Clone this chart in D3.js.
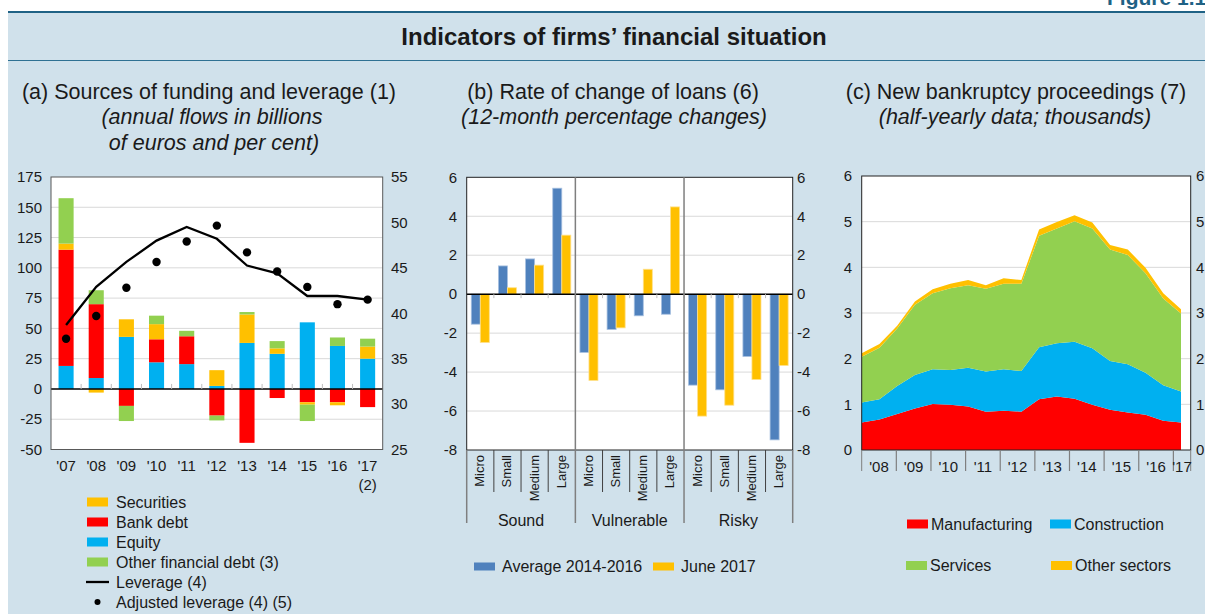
<!DOCTYPE html>
<html>
<head>
<meta charset="utf-8">
<script src="https://cdn.jsdelivr.net/npm/d3@7"></script>
<style>
  body { margin: 0; background: #ffffff; }
  text { font-family: "Liberation Sans", Arial, Helvetica, sans-serif; fill: #1a1a1a; }
</style>
</head>
<body>
<svg id="chart" width="1205" height="614"></svg>
<script>
// ---- panel (a) data: annual flows, bn euro / leverage %
var years = ["'07", "'08", "'09", "'10", "'11", "'12", "'13", "'14", "'15", "'16", "'17"];
var equity     = [19, 9, 43, 22, 20.5, 2.5, 38, 29, 55, 35.5, 25];
var bankDebt   = [96, 61, -14, 19, 23, -22, -44.5, -7.5, -11, -11, -15];
var securities = [5, -3, 14.5, 12.5, 0, 13, 23.5, 4.5, -2, -2.5, 10];
var otherDebt  = [37.5, 11.5, -12.5, 7, 4.5, -4, 2, 6, -13.5, 7, 6.5];
var leverage    = [38.7, 42.9, 45.65, 48.0, 49.5, 48.2, 45.25, 44.4, 41.9, 41.9, 41.5];
var adjLeverage = [37.2, 39.7, 42.8, 45.65, 47.9, 49.65, 46.7, 44.6, 42.9, 41.0, 41.5];
var leftTicksA = [175, 150, 125, 100, 75, 50, 25, 0, -25, -50];
var rightTicksA = [55, 50, 45, 40, 35, 30, 25];

// ---- panel (b) data: 12-month % change of loans
var firmSizes = ["Micro", "Small", "Medium", "Large"];
var firmGroups = ["Sound", "Vulnerable", "Risky"];
var avg2014_2016 = [-1.54, 1.45, 1.81, 5.44, -2.99, -1.81, -1.11, -1.03, -4.67, -4.91, -3.2, -7.48];
var june2017     = [-2.48, 0.33, 1.49, 3.03, -4.43, -1.73, 1.28, 4.48, -6.26, -5.70, -4.38, -3.66];
var ticksB = [6, 4, 2, 0, -2, -4, -6, -8];

// ---- panel (c) data: new bankruptcy proceedings, thousands, half-yearly
var periods = ["2008H1", "2008H2", "2009H1", "2009H2", "2010H1", "2010H2", "2011H1", "2011H2",
  "2012H1", "2012H2", "2013H1", "2013H2", "2014H1", "2014H2", "2015H1", "2015H2",
  "2016H1", "2016H2", "2017H1"];
var manufacturing = [0.60, 0.67, 0.79, 0.91, 1.01, 0.99, 0.95, 0.84, 0.86, 0.84, 1.11, 1.17, 1.12, 0.99, 0.88, 0.82, 0.77, 0.64, 0.60];
var construction  = [0.44, 0.44, 0.61, 0.73, 0.76, 0.76, 0.85, 0.88, 0.91, 0.89, 1.14, 1.17, 1.25, 1.24, 1.07, 1.06, 0.92, 0.78, 0.68];
var services      = [1.00, 1.13, 1.26, 1.54, 1.66, 1.79, 1.81, 1.81, 1.87, 1.91, 2.44, 2.51, 2.64, 2.62, 2.44, 2.39, 2.18, 1.90, 1.71];
var otherSectors  = [0.08, 0.08, 0.06, 0.07, 0.09, 0.10, 0.11, 0.08, 0.12, 0.08, 0.14, 0.14, 0.13, 0.13, 0.10, 0.12, 0.12, 0.11, 0.09];
var yearLabelsC = ["'08", "'09", "'10", "'11", "'12", "'13", "'14", "'15", "'16", "'17"];
var ticksC = [6, 5, 4, 3, 2, 1, 0];

var RED = "#ff0000", BLUE = "#00b0f0", GREEN = "#92d050", YELLOW = "#ffc000", STEEL = "#4f81bd";
var GRID = "#d9d9d9";

var svg = d3.select("#chart");

// background + header
svg.append("rect").attr("x", 8).attr("y", 12).attr("width", 1197).attr("height", 602).attr("fill", "#d0e1eb");
svg.append("line").attr("x1", 8).attr("x2", 1205).attr("y1", 12).attr("y2", 12)
  .attr("stroke", "#1f6285").attr("stroke-width", 2.2);
svg.append("line").attr("x1", 8).attr("x2", 1205).attr("y1", 60.5).attr("y2", 60.5)
  .attr("stroke", "#2f7193").attr("stroke-width", 1);
// header text is cut at the top of the page, as in the source figure
svg.append("text").attr("x", 1107).attr("y", 5).text("Figure 1.1")
  .style("font-size", "21px").style("font-weight", "bold").style("fill", "#1f6285");
svg.append("text").attr("x", 614).attr("y", 45).attr("text-anchor", "middle")
  .text("Indicators of firms\u2019 financial situation")
  .style("font-size", "24px").style("font-weight", "bold");

function addText(x, y, str, size, anchor, italic) {
  var t = svg.append("text").attr("x", x).attr("y", y).text(str)
    .attr("text-anchor", anchor || "middle").style("font-size", size + "px");
  if (italic) t.style("font-style", "italic");
  return t;
}

addText(209, 99, "(a) Sources of funding and leverage (1)", 21.5);
addText(212, 124, "(annual flows in billions", 21.5, "middle", true);
addText(214, 150, "of euros and per cent)", 21.5, "middle", true);
addText(613, 99, "(b) Rate of change of loans (6)", 21.5);
addText(614, 124, "(12-month percentage changes)", 21.5, "middle", true);
addText(1016, 99, "(c) New bankruptcy proceedings (7)", 21.5);
addText(1015, 124, "(half-yearly data; thousands)", 21.5, "middle", true);

// ================= panel (a) =================
var aL = 51, aR = 382.7, aT = 177, aB = 449.5;
var xA = d3.scaleBand().domain(years).range([aL, aR]).paddingInner(0.5).paddingOuter(0.25);
var yA = d3.scaleLinear().domain([-50, 175]).range([aB, aT]);
var yA2 = d3.scaleLinear().domain([25, 55]).range([aB, aT]);

svg.append("rect").attr("x", aL).attr("y", aT).attr("width", aR - aL).attr("height", aB - aT).attr("fill", "#fff");
svg.append("g").selectAll("line").data(leftTicksA.filter(function(d){ return d != 0 && d != 175 && d != -50; }))
  .enter().append("line")
  .attr("x1", aL).attr("x2", aR).attr("y1", function(d){ return yA(d); }).attr("y2", function(d){ return yA(d); })
  .attr("stroke", GRID).attr("stroke-width", 1);

var rowsA = years.map(function(y, i) {
  return { year: y, equity: equity[i], bank: bankDebt[i], securities: securities[i], other: otherDebt[i] };
});
var keysA = ["equity", "bank", "securities", "other"];
var colorA = { equity: BLUE, bank: RED, securities: YELLOW, other: GREEN };
var stackA = d3.stack().keys(keysA).offset(d3.stackOffsetDiverging)(rowsA);

svg.append("g").selectAll("g").data(stackA).enter().append("g")
  .attr("fill", function(d){ return colorA[d.key]; })
  .selectAll("rect").data(function(d){ return d; }).enter().append("rect")
  .attr("x", function(d){ return xA(d.data.year); })
  .attr("width", xA.bandwidth())
  .attr("y", function(d){ return yA(Math.max(d[0], d[1])); })
  .attr("height", function(d){ return Math.abs(yA(d[0]) - yA(d[1])); });

// zero line + small category ticks
svg.append("line").attr("x1", aL).attr("x2", aR).attr("y1", yA(0)).attr("y2", yA(0))
  .attr("stroke", "#000").attr("stroke-width", 1.5);
svg.append("g").selectAll("line").data(years.slice(1)).enter().append("line")
  .attr("x1", function(d){ return xA(d) - xA.step() * 0.25; })
  .attr("x2", function(d){ return xA(d) - xA.step() * 0.25; })
  .attr("y1", yA(0) - 5).attr("y2", yA(0)).attr("stroke", "#bfbfbf");

// leverage line + adjusted dots
var lineA = d3.line()
  .x(function(d, i){ return xA(years[i]) + xA.bandwidth() / 2; })
  .y(function(d){ return yA2(d); });
svg.append("path").datum(leverage).attr("d", lineA)
  .attr("fill", "none").attr("stroke", "#000").attr("stroke-width", 2.3);
svg.append("g").selectAll("circle").data(adjLeverage).enter().append("circle")
  .attr("cx", function(d, i){ return xA(years[i]) + xA.bandwidth() / 2; })
  .attr("cy", function(d){ return yA2(d); })
  .attr("r", 4.2).attr("fill", "#000");

svg.append("rect").attr("x", aL).attr("y", aT).attr("width", aR - aL).attr("height", aB - aT)
  .attr("fill", "none").attr("stroke", "#595959").attr("stroke-width", 1);

svg.append("g").selectAll("text").data(leftTicksA).enter().append("text")
  .attr("x", 42).attr("y", function(d){ return yA(d); }).attr("dy", "0.35em")
  .attr("text-anchor", "end").style("font-size", "15px").text(function(d){ return d; });
svg.append("g").selectAll("text").data(rightTicksA).enter().append("text")
  .attr("x", 391).attr("y", function(d){ return yA2(d); }).attr("dy", "0.35em")
  .attr("text-anchor", "start").style("font-size", "15px").text(function(d){ return d; });
svg.append("g").selectAll("text").data(years).enter().append("text")
  .attr("x", function(d){ return xA(d) + xA.bandwidth() / 2; }).attr("y", 471)
  .attr("text-anchor", "middle").style("font-size", "15px").text(function(d){ return d; });
addText(xA("'17") + xA.bandwidth() / 2, 490, "(2)", 15);

// legend (a)
var legendA = [
  { label: "Securities", color: YELLOW, type: "box" },
  { label: "Bank debt", color: RED, type: "box" },
  { label: "Equity", color: BLUE, type: "box" },
  { label: "Other financial debt (3)", color: GREEN, type: "box" },
  { label: "Leverage (4)", type: "line" },
  { label: "Adjusted leverage (4) (5)", type: "dot" }
];
legendA.forEach(function(d, i) {
  var cy = 502 + i * 20;
  if (d.type == "box") {
    svg.append("rect").attr("x", 87).attr("y", cy - 4.5).attr("width", 21).attr("height", 9).attr("fill", d.color);
  } else if (d.type == "line") {
    svg.append("line").attr("x1", 86).attr("x2", 109).attr("y1", cy).attr("y2", cy)
      .attr("stroke", "#000").attr("stroke-width", 2.3);
  } else {
    svg.append("circle").attr("cx", 97.5).attr("cy", cy).attr("r", 3).attr("fill", "#000");
  }
  addText(116, cy, d.label, 16, "start").attr("dy", "0.35em");
});

// ================= panel (b) =================
var bL = 466.7, bR = 792.7, bT = 177.3, bB = 450;
var catsB = [];
firmGroups.forEach(function(g) { firmSizes.forEach(function(s) { catsB.push(g + "|" + s); }); });
var xB = d3.scaleBand().domain(catsB).range([bL, bR]).paddingInner(0.335).paddingOuter(0.1675);
var xBsub = d3.scaleBand().domain(["avg", "jun"]).range([0, xB.bandwidth()]);
var yB = d3.scaleLinear().domain([-8, 6]).range([bB, bT]);

svg.append("rect").attr("x", bL).attr("y", bT).attr("width", bR - bL).attr("height", bB - bT).attr("fill", "#fff");
svg.append("g").selectAll("line").data(ticksB.filter(function(d){ return d != 0 && d != 6 && d != -8; }))
  .enter().append("line")
  .attr("x1", bL).attr("x2", bR).attr("y1", function(d){ return yB(d); }).attr("y2", function(d){ return yB(d); })
  .attr("stroke", GRID);

var seriesB = [
  { key: "avg", values: avg2014_2016, color: STEEL, edge: "#a7c0e0" },
  { key: "jun", values: june2017, color: YELLOW, edge: "#ffe08a" }
];
seriesB.forEach(function(s) {
  svg.append("g").selectAll("rect").data(s.values).enter().append("rect")
    .attr("x", function(d, i){ return xB(catsB[i]) + xBsub(s.key); })
    .attr("width", xBsub.bandwidth())
    .attr("y", function(d){ return yB(Math.max(0, d)); })
    .attr("height", function(d){ return Math.abs(yB(d) - yB(0)); })
    .attr("fill", s.color).attr("stroke", s.edge).attr("stroke-width", 0.8);
});

svg.append("line").attr("x1", bL).attr("x2", bR).attr("y1", yB(0)).attr("y2", yB(0))
  .attr("stroke", "#000").attr("stroke-width", 1.5);
// boundaries between categories
var boundsB = catsB.map(function(c){ return xB(c) - xB.step() * xB.paddingOuter(); }).slice(1);
svg.append("g").selectAll("line").data(boundsB).enter().append("line")
  .attr("x1", function(d){ return d; }).attr("x2", function(d){ return d; })
  .attr("y1", yB(0)).attr("y2", yB(0) + 4).attr("stroke", "#bfbfbf");

svg.append("rect").attr("x", bL).attr("y", bT).attr("width", bR - bL).attr("height", bB - bT)
  .attr("fill", "none").attr("stroke", "#222").attr("stroke-width", 1);

// small separators under plot and group separators
svg.append("g").selectAll("line").data(boundsB.filter(function(d, i){ return (i + 1) % 4 != 0; }))
  .enter().append("line")
  .attr("x1", function(d){ return d; }).attr("x2", function(d){ return d; })
  .attr("y1", bB).attr("y2", 492).attr("stroke", "#404040");
var groupEdges = [bL].concat(boundsB.filter(function(d, i){ return (i + 1) % 4 == 0; })).concat([bR]);
svg.append("g").selectAll("line").data(groupEdges).enter().append("line")
  .attr("x1", function(d){ return d; }).attr("x2", function(d){ return d; })
  .attr("y1", function(d, i){ return (i == 0 || i == groupEdges.length - 1) ? bB : bT; })
  .attr("y2", 523).attr("stroke", "#7f7f7f").attr("stroke-width", 1.5);

svg.append("g").selectAll("text").data(catsB).enter().append("text")
  .attr("transform", function(d){ return "translate(" + (xB(d) + xB.bandwidth() / 2 + 4) + "," + (bB + 5) + ") rotate(-90)"; })
  .attr("text-anchor", "end").style("font-size", "13px")
  .text(function(d){ return d.split("|")[1]; });
svg.append("g").selectAll("text").data(firmGroups).enter().append("text")
  .attr("x", function(d, i){ return (groupEdges[i] + groupEdges[i + 1]) / 2; }).attr("y", 526)
  .attr("text-anchor", "middle").style("font-size", "16px").text(function(d){ return d; });

svg.append("g").selectAll("text").data(ticksB).enter().append("text")
  .attr("x", 457).attr("y", function(d){ return yB(d); }).attr("dy", "0.35em")
  .attr("text-anchor", "end").style("font-size", "15px").text(function(d){ return d; });
svg.append("g").selectAll("text").data(ticksB).enter().append("text")
  .attr("x", 797).attr("y", function(d){ return yB(d); }).attr("dy", "0.35em")
  .attr("text-anchor", "start").style("font-size", "15px").text(function(d){ return d; });

// legend (b)
[{ label: "Average 2014-2016", color: STEEL, x: 474 }, { label: "June 2017", color: YELLOW, x: 653 }]
  .forEach(function(d) {
    svg.append("rect").attr("x", d.x).attr("y", 562.5).attr("width", 21).attr("height", 8).attr("fill", d.color);
    addText(d.x + 28, 566.5, d.label, 16, "start").attr("dy", "0.35em");
  });

// ================= panel (c) =================
var cL = 861.7, cR = 1190.7, cT = 176, cB = 450;
var yearScaleC = d3.scaleLinear().domain([2008, 2017.5]).range([cL, cR]);
var xC = d3.scalePoint().domain(periods).range([cL, 1181]);
var yC = d3.scaleLinear().domain([0, 6]).range([cB, cT]);

svg.append("rect").attr("x", cL).attr("y", cT).attr("width", cR - cL).attr("height", cB - cT).attr("fill", "#fff");
svg.append("g").selectAll("line").data(ticksC.filter(function(d){ return d != 0 && d != 6; }))
  .enter().append("line")
  .attr("x1", cL).attr("x2", cR).attr("y1", function(d){ return yC(d); }).attr("y2", function(d){ return yC(d); })
  .attr("stroke", GRID);

var rowsC = periods.map(function(p, i) {
  return { period: p, manufacturing: manufacturing[i], construction: construction[i], services: services[i], other: otherSectors[i] };
});
var keysC = ["manufacturing", "construction", "services", "other"];
var colorC = { manufacturing: RED, construction: BLUE, services: GREEN, other: YELLOW };
var stackC = d3.stack().keys(keysC)(rowsC);
var areaC = d3.area()
  .x(function(d){ return xC(d.data.period); })
  .y0(function(d){ return yC(d[0]); })
  .y1(function(d){ return yC(d[1]); });
svg.append("g").selectAll("path").data(stackC).enter().append("path")
  .attr("d", areaC).attr("fill", function(d){ return colorC[d.key]; });

svg.append("rect").attr("x", cL).attr("y", cT).attr("width", cR - cL).attr("height", cB - cT)
  .attr("fill", "none").attr("stroke", "#222").attr("stroke-width", 1);

var yearTicksC = yearLabelsC.map(function(d, i){ return 2008 + i; });
svg.append("g").selectAll("line").data(yearTicksC.slice(1)).enter().append("line")
  .attr("x1", function(d){ return yearScaleC(d); }).attr("x2", function(d){ return yearScaleC(d); })
  .attr("y1", cB).attr("y2", 471).attr("stroke", "#7f7f7f").attr("stroke-width", 1.2);
svg.append("line").attr("x1", cL).attr("x2", cL).attr("y1", cB).attr("y2", 471).attr("stroke", "#7f7f7f");
svg.append("line").attr("x1", cR).attr("x2", cR).attr("y1", cB).attr("y2", 471).attr("stroke", "#7f7f7f");
svg.append("g").selectAll("text").data(yearLabelsC).enter().append("text")
  .attr("x", function(d, i){
    var a = yearScaleC(yearTicksC[i]);
    var b = yearScaleC(Math.min(yearTicksC[i] + 1, 2017.5));
    return (a + b) / 2;
  })
  .attr("y", 472).attr("text-anchor", "middle").style("font-size", "15px").text(function(d){ return d; });

svg.append("g").selectAll("text").data(ticksC).enter().append("text")
  .attr("x", 852).attr("y", function(d){ return yC(d); }).attr("dy", "0.35em")
  .attr("text-anchor", "end").style("font-size", "15px").text(function(d){ return d; });
svg.append("g").selectAll("text").data(ticksC).enter().append("text")
  .attr("x", 1196).attr("y", function(d){ return yC(d); }).attr("dy", "0.35em")
  .attr("text-anchor", "start").style("font-size", "15px").text(function(d){ return d; });

// legend (c)
[
  { label: "Manufacturing", color: RED, x: 907, y: 524 },
  { label: "Construction", color: BLUE, x: 1050, y: 524 },
  { label: "Services", color: GREEN, x: 906, y: 565.5 },
  { label: "Other sectors", color: YELLOW, x: 1051, y: 565.5 }
].forEach(function(d) {
  svg.append("rect").attr("x", d.x).attr("y", d.y - 4.5).attr("width", 21).attr("height", 9).attr("fill", d.color);
  addText(d.x + 24, d.y, d.label, 16, "start").attr("dy", "0.35em");
});
</script>
</body>
</html>
